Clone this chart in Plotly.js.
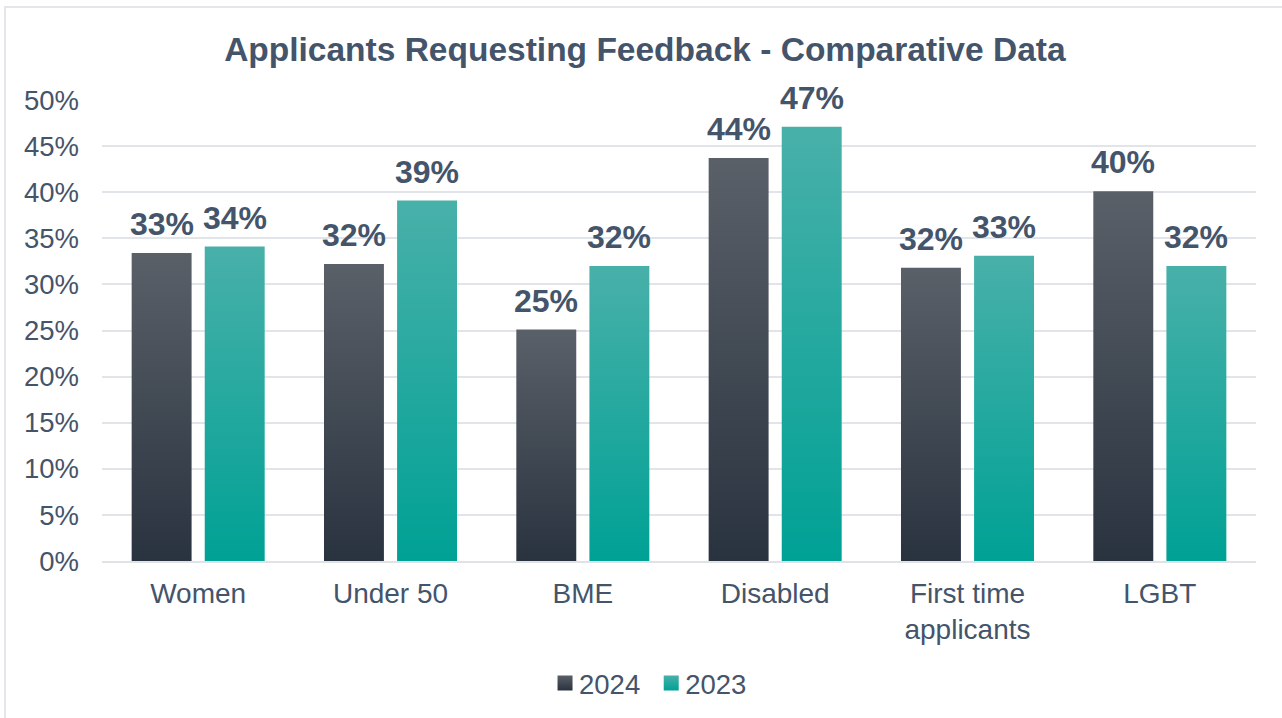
<!DOCTYPE html>
<html>
<head>
<meta charset="utf-8">
<script src="https://cdn.plot.ly/plotly-3.0.1.min.js"></script>
<style>
  html, body { margin: 0; padding: 0; background: #ffffff; }
  #chart { width: 1282px; height: 718px; position: absolute; left: 0; top: 0; }
  #frame { position: absolute; left: 4px; top: 6px; width: 1290px; height: 730px;
           border-left: 2px solid #e3e6ea; border-top: 2px solid #e3e6ea; pointer-events: none; }
</style>
</head>
<body>
<div id="chart"></div>
<div id="frame"></div>
<script>
const categories = ["Women", "Under 50", "BME", "Disabled", "First time<br>applicants", "LGBT"];
const values2024 = [0.334, 0.322, 0.251, 0.437, 0.318, 0.401];
const values2023 = [0.341, 0.391, 0.320, 0.471, 0.331, 0.320];
const seriesNames = ["2024", "2023"];
const yTickVals = [0, 0.05, 0.10, 0.15, 0.20, 0.25, 0.30, 0.35, 0.40, 0.45, 0.50];

const FONT = "Liberation Sans, Arial, sans-serif";
const TXT = "#44546A";
const BARGAP = 0.24;
const BARGROUPGAP = 0.18;

const gradients = [
  { id: "grad2024", top: "#5a6068", bottom: "#29333f", solid: "#3d4550" },
  { id: "grad2023", top: "#48b0a9", bottom: "#00a195", solid: "#1aaa9f" }
];

function barTrace(name, vals, g) {
  return {
    type: "bar",
    name: name,
    x: categories,
    y: vals,
    marker: { color: g.solid, line: { width: 0 } },
    hoverinfo: "skip"
  };
}

const data = [
  barTrace(seriesNames[0], values2024, gradients[0]),
  barTrace(seriesNames[1], values2023, gradients[1])
];

// value labels above each bar, positioned in data coordinates
const slotOffset = (1 - BARGAP) / 4;
const annotations = [];
[values2024, values2023].forEach((vals, s) => {
  vals.forEach((v, i) => {
    annotations.push({
      xref: "x", yref: "y",
      x: i + (s === 0 ? -slotOffset : slotOffset),
      y: v,
      text: Math.round(v * 100) + "%",
      showarrow: false,
      xanchor: "center", yanchor: "bottom",
      yshift: 9,
      font: { family: FONT, size: 32, color: TXT, weight: "bold" }
    });
  });
});

const layout = {
  width: 1282,
  height: 718,
  paper_bgcolor: "#ffffff",
  plot_bgcolor: "#ffffff",
  margin: { l: 102, r: 26, t: 100, b: 156 },
  font: { family: FONT, color: TXT, size: 27 },
  title: {
    text: "Applicants Requesting Feedback - Comparative Data",
    font: { family: FONT, size: 33.5, color: TXT, weight: "bold" },
    x: 0.503, xanchor: "center",
    y: 0.932, yanchor: "middle"
  },
  barmode: "group",
  bargap: BARGAP,
  bargroupgap: BARGROUPGAP,
  showlegend: true,
  legend: {
    orientation: "h",
    x: 0.471, xanchor: "center",
    y: -0.262, yanchor: "middle",
    font: { family: FONT, size: 27.5, color: TXT },
    itemwidth: 30,
    traceorder: "normal"
  },
  annotations: annotations,
  xaxis: {
    type: "category",
    showgrid: false,
    showline: true,
    linecolor: "#dfe3e8",
    linewidth: 2,
    ticks: "",
    ticklabelstandoff: 6,
    tickfont: { family: FONT, size: 28, color: TXT },
    fixedrange: true
  },
  yaxis: {
    range: [0, 0.5],
    tickvals: yTickVals,
    tickformat: ".0%",
    showgrid: true,
    gridcolor: "#e1e5ea",
    gridwidth: 2,
    zeroline: false,
    showline: false,
    ticks: "",
    ticklabelstandoff: 22,
    tickfont: { family: FONT, size: 27.5, color: TXT },
    fixedrange: true
  }
};

function applyGradients(gd) {
  const svg = gd.querySelector("svg.main-svg");
  if (!svg) return;
  const NS = "http://www.w3.org/2000/svg";
  let defs = svg.querySelector("defs");
  if (!defs) { defs = document.createElementNS(NS, "defs"); svg.insertBefore(defs, svg.firstChild); }
  gradients.forEach(g => {
    const lg = document.createElementNS(NS, "linearGradient");
    lg.setAttribute("id", g.id);
    lg.setAttribute("x1", "0"); lg.setAttribute("y1", "0");
    lg.setAttribute("x2", "0"); lg.setAttribute("y2", "1");
    const s1 = document.createElementNS(NS, "stop");
    s1.setAttribute("offset", "0"); s1.setAttribute("stop-color", g.top);
    const s2 = document.createElementNS(NS, "stop");
    s2.setAttribute("offset", "1"); s2.setAttribute("stop-color", g.bottom);
    lg.appendChild(s1); lg.appendChild(s2);
    defs.appendChild(lg);
  });
  const traces = gd.querySelectorAll(".barlayer .trace");
  traces.forEach((t, i) => {
    t.querySelectorAll(".point path").forEach(p => { p.style.fill = "url(#" + gradients[i].id + ")"; });
  });
  const leg = gd.querySelectorAll(".legend .traces");
  leg.forEach((t, i) => {
    t.querySelectorAll(".legendpoints path").forEach(p => {
      p.style.fill = "url(#" + gradients[i].id + ")";
      p.setAttribute("d", "M7.5,7.5H-7.5V-7.5H7.5Z");
      const tr = p.getAttribute("transform") || "";
      p.setAttribute("transform", (tr + " translate(6,0)").trim());
    });
  });
}

Plotly.newPlot("chart", data, layout, { staticPlot: true, displayModeBar: false })
  .then(applyGradients);
</script>
</body>
</html>
